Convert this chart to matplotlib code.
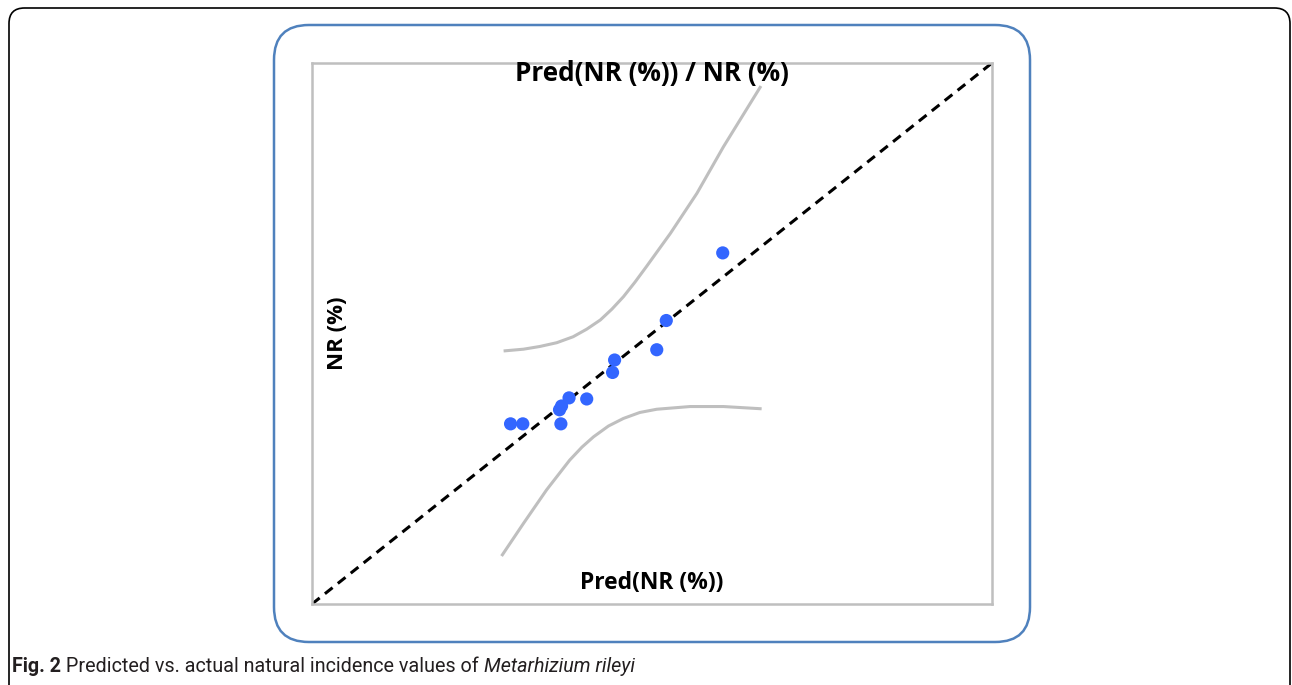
import matplotlib
matplotlib.use("Agg")
from matplotlib import pyplot as plt
from matplotlib.patches import FancyBboxPatch

# %% data (arbitrary 0-10 units, no ticks shown)

pred_nr = [2.92, 3.10, 3.66, 3.64, 3.67, 3.78, 4.04, 4.42, 4.45, 5.07, 5.21, 6.04]
nr = [3.33, 3.33, 3.33, 3.59, 3.66, 3.81, 3.79, 4.28, 4.51, 4.70, 5.24, 6.49]

upper_x = [2.84, 3.11, 3.35, 3.60, 3.84, 4.04, 4.24, 4.41, 4.58, 4.75, 4.92, 5.27, 5.66, 6.05, 6.59]
upper_y = [4.68, 4.71, 4.76, 4.83, 4.94, 5.08, 5.25, 5.45, 5.68, 5.95, 6.24, 6.85, 7.59, 8.45, 9.55]

lower_x = [2.80, 3.11, 3.45, 3.79, 3.97, 4.14, 4.36, 4.58, 4.82, 5.07, 5.56, 6.05, 6.59]
lower_y = [0.91, 1.49, 2.11, 2.66, 2.90, 3.09, 3.29, 3.43, 3.54, 3.60, 3.65, 3.65, 3.61]

diag = [0, 10]

# %% figure

fig = plt.figure(figsize=(12.92, 6.85), dpi=100)
W, H = 1292, 685

# outer black frame (open at the bottom)
fig.patches.append(FancyBboxPatch(
    (9 / W, -0.05), (1290 - 9) / W, 0.05 + (685 - 8) / H,
    boxstyle="round,pad=0,rounding_size=0.012",
    transform=fig.transFigure, fill=False, edgecolor="black", linewidth=1.2,
    mutation_aspect=W / H,
))

# blue rounded box
fig.patches.append(FancyBboxPatch(
    (274 / W, (685 - 642) / H), (1030 - 274) / W, (642 - 25) / H,
    boxstyle="round,pad=0,rounding_size=0.027",
    transform=fig.transFigure, fill=False, edgecolor="#4f81bd", linewidth=1.8,
    mutation_aspect=W / H,
))

ax = fig.add_axes([312 / W, (685 - 604) / H, (992 - 312) / W, (604 - 63) / H])

ax.plot(upper_x, upper_y, color="#bfbfbf", linewidth=2.2, solid_joinstyle="round")
ax.plot(lower_x, lower_y, color="#bfbfbf", linewidth=2.2, solid_joinstyle="round")
ax.plot(diag, diag, color="black", linewidth=2.2, linestyle=(0, (3.2, 2.2)))
ax.scatter(pred_nr, nr, s=90, color="#3366ff", edgecolor="none", zorder=3)

ax.set_xlim(0, 10)
ax.set_ylim(0, 10)
ax.set_xticks([])
ax.set_yticks([])
for spine in ax.spines.values():
    spine.set_color("#bfbfbf")
    spine.set_linewidth(1.8)

lab = dict(family="Open Sans", fontweight="bold", color="black")
ax.text(0.5, 0.981, "Pred(NR (%)) / NR (%)", transform=ax.transAxes,
        ha="center", va="center", fontsize=18.8, **lab)
ax.text(0.5, 0.039, "Pred(NR (%))", transform=ax.transAxes,
        ha="center", va="center", fontsize=16.5, **lab)
ax.text(0.037, 0.5, "NR (%)", transform=ax.transAxes, rotation=90,
        ha="center", va="center", fontsize=16, **lab)

# caption
cap = dict(fontsize=14.2, family="Roboto", color="#231f20")
t1 = fig.text(12 / W, (685 - 676) / H, "Fig. 2", fontweight="bold", va="bottom", **cap)
t2 = plt.annotate(" Predicted vs. actual natural incidence values of ", xy=(1, 0),
                  xycoords=t1, va="bottom", ha="left", **cap)
plt.annotate("Metarhizium rileyi", xy=(1, 0), xycoords=t2, va="bottom", ha="left",
             fontstyle="italic", **cap)

fig.savefig("out.png", dpi=100)
